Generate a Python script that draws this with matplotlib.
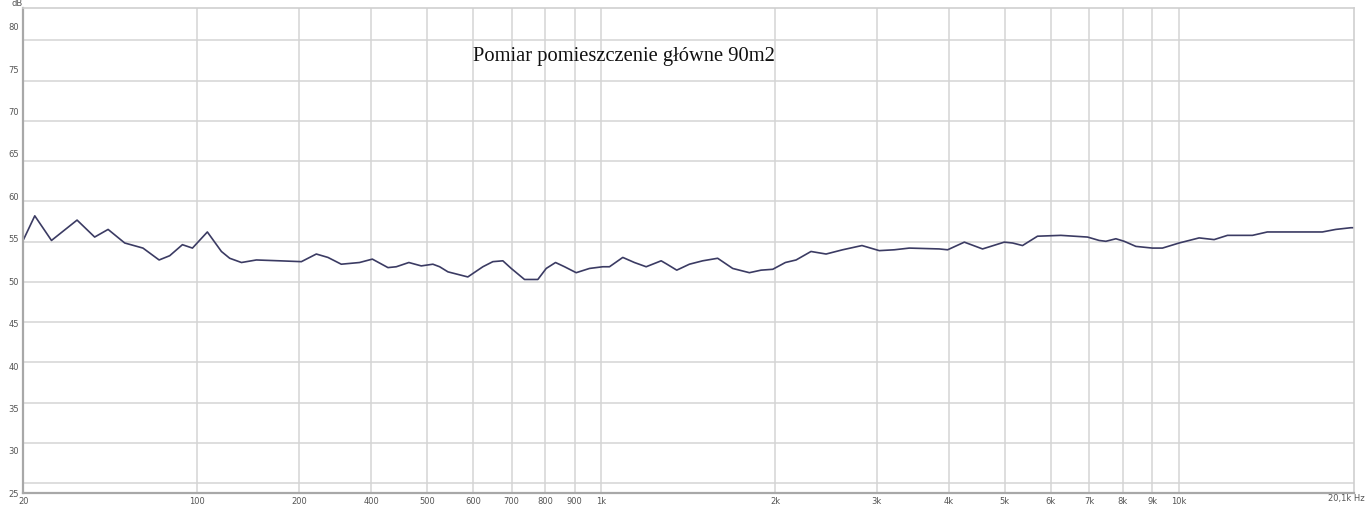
import matplotlib
matplotlib.use("Agg")
import matplotlib.pyplot as plt
from matplotlib.ticker import FixedLocator, NullFormatter

freq_hz = [100, 104.6, 111.8, 123.8, 132.8, 140.1, 149.7, 161, 171.7, 179.1,
           188.4, 196.1, 208.1, 220.1, 227.5, 238.4, 253, 277.6, 302.7, 321.3,
           336.5, 354.9, 381.7, 401.7, 427.5, 441.9, 464.6, 488.2, 511.3, 525.3,
           542.9, 587.7, 624, 649.4, 675.8, 698.8, 736.8, 776.9, 803.3, 833.7,
           864.2, 905.3, 954.5, 1006.5, 1033.7, 1090, 1141.7, 1196.5, 1270.2, 1300,
           1351.6, 1421.6, 1498.8, 1591, 1689.4, 1805.5, 1891.6, 1981.5, 2084, 2175,
           2308, 2451, 2618, 2828, 3030, 3217, 3415, 3847, 3979, 4253,
           4573, 4986, 5154, 5363, 5693, 6248, 6950, 7279, 7476, 7781,
           8043, 8426, 9003, 9367, 10012, 10842, 11510, 12140, 13410, 14230,
           17720, 18690, 19850, 20100]
level_db = [54.9, 57.7, 54.8, 57.2, 55.2, 56.1, 54.5, 53.9, 52.5, 53.0,
            54.3, 53.9, 55.8, 53.5, 52.7, 52.2, 52.5, 52.4, 52.3, 53.2,
            52.8, 52.0, 52.2, 52.6, 51.6, 51.7, 52.2, 51.8, 52.0, 51.7,
            51.1, 50.5, 51.7, 52.3, 52.4, 51.5, 50.2, 50.2, 51.5, 52.2,
            51.7, 51.0, 51.5, 51.7, 51.7, 52.8, 52.2, 51.7, 52.4, 52.0,
            51.3, 52.0, 52.4, 52.7, 51.5, 51.0, 51.3, 51.4, 52.2, 52.5,
            53.5, 53.2, 53.7, 54.2, 53.6, 53.7, 53.9, 53.8, 53.7, 54.6,
            53.8, 54.6, 54.5, 54.2, 55.3, 55.4, 55.2, 54.8, 54.7, 55.0,
            54.7, 54.1, 53.9, 53.9, 54.5, 55.1, 54.9, 55.4, 55.4, 55.8,
            55.8, 56.1, 56.3, 56.3]

# x ticks as they appear in the picture (labels don't match positions in the original)
x_ticks = [100, 200, 300, 400, 500, 600, 700, 800, 900,
           1000, 2000, 3000, 4000, 5000, 6000, 7000, 8000, 9000, 10000]
x_labels = ["20", "100", "200", "400", "500", "600", "700", "800", "900",
            "1k", "2k", "3k", "4k", "5k", "6k", "7k", "8k", "9k", "10k"]
y_ticks = [25, 30, 35, 40, 45, 50, 55, 60, 65, 70, 75, 80]
# horizontal grid lines sit a bit off the labels in the original
y_grid = [26.18 + 4.746 * k for k in range(12)]

title = "Pomiar pomieszczenie główne 90m2"

fig = plt.figure(figsize=(13.66, 5.05), dpi=100)
ax = fig.add_axes([0.0172, 0.0232, 0.974, 0.961])

ax.set_xscale("log")
ax.set_xlim(100, 20100)
ax.set_ylim(25, 82.2)

ax.plot(freq_hz, level_db, color="#3b3b63", lw=1.2,
        solid_joinstyle="round", solid_capstyle="round")

ax.xaxis.set_major_locator(FixedLocator(x_ticks))
ax.xaxis.set_minor_locator(FixedLocator([]))
ax.set_xticklabels(x_labels)
ax.xaxis.set_minor_formatter(NullFormatter())

ax.yaxis.set_major_locator(FixedLocator(y_ticks))
ax.yaxis.set_minor_locator(FixedLocator(y_grid))
ax.set_yticklabels([str(v) for v in y_ticks])

ax.tick_params(axis="both", which="both", length=0, labelsize=6, labelcolor="#555555")
ax.tick_params(axis="x", pad=2.5)
ax.tick_params(axis="y", pad=3)

ax.grid(True, axis="x", which="major", color="#d4d4d4", lw=1.1)
ax.grid(True, axis="y", which="minor", color="#d4d4d4", lw=1.1)
ax.grid(False, axis="y", which="major")
ax.set_axisbelow(True)

for side in ["top", "right"]:
    ax.spines[side].set_color("#cfcfcf")
    ax.spines[side].set_linewidth(1.2)
for side in ["left", "bottom"]:
    ax.spines[side].set_color("#a8a8a8")
    ax.spines[side].set_linewidth(1.6)

fig.text(17 / 1366, 1 - 4 / 505, "dB", fontsize=6, color="#555555", ha="center", va="center")
fig.text(1365 / 1366, 1 - 499 / 505, "20,1k Hz", fontsize=6, color="#555555", ha="right", va="center")
fig.text(624 / 1366, 1 - 57 / 505, title, fontsize=14.8, family="Liberation Serif",
         color="#111111", ha="center", va="center")

fig.savefig("out.png", dpi=100)
